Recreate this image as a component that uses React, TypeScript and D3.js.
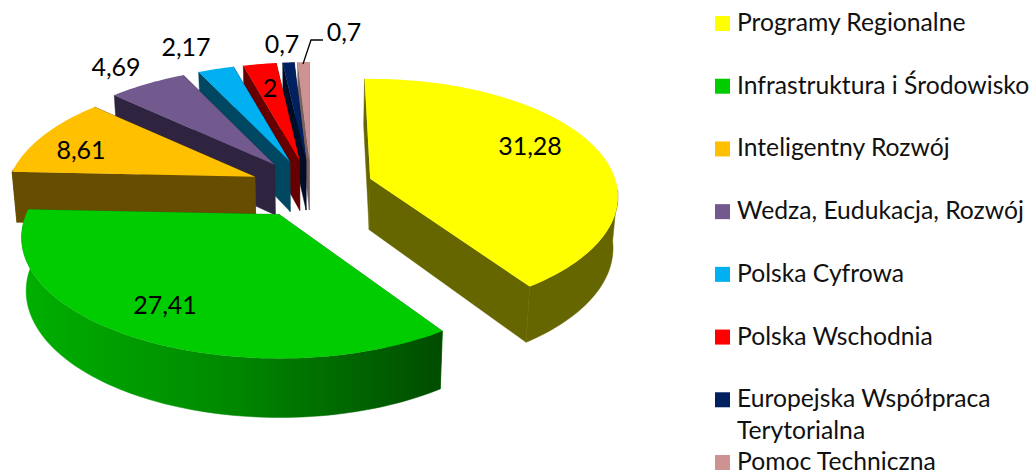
import React from "react";
import * as d3 from "d3";

const categories = [
  "Programy Regionalne",
  "Infrastruktura i Środowisko",
  "Inteligentny Rozwój",
  "Wedza, Eudukacja, Rozwój",
  "Polska Cyfrowa",
  "Polska Wschodnia",
  "Europejska Współpraca Terytorialna",
  "Pomoc Techniczna",
];
const values = [31.28, 27.41, 8.61, 4.69, 2.17, 2, 0.7, 0.7];
const topColors = ["#ffff00", "#00cc00", "#ffc000", "#725a8f", "#00b0f0", "#ff0000", "#002060", "#cd9393"];
const sideColors = ["#666600", "#008a00", "#664d00", "#2e243f", "#004761", "#660000", "#000d26", "#7a6060"];

// layout only
const WIDTH = 1030;
const HEIGHT = 472;
const explode = [0.262, 0.22, 0.26, 0.28, 0.28, 0.28, 0.28, 0.28];
const labelXY: [number, number][] = [
  [530, 155], [165, 314], [81, 159], [116, 76], [186, 56], [270, 97], [282, 53], [344, 41],
];
const cx = 311, cy = 187.5, A0 = 250, B0 = 116.6, K0 = 0.19;
const shapeA = [245, 253, 245, 245, 245, 245, 245, 245];
const shapeB = [115, 116.6, 116.6, 116.6, 116.6, 116.6, 116.6, 116.6];
const shapeK = [0.15, 0.19, 0.19, 0.19, 0.19, 0.19, 0.19, 0.19];
const startNudgeDeg = [-1.5, 2, 0, 0, 0, 0, 0, 0];

type P = [number, number];
const proj = (theta: number, i: number, ox: P): P => {
  const u = Math.sin(theta);
  const v = Math.cos(theta);
  const s = 1 / (1 + shapeK[i] * v);
  return [ox[0] + shapeA[i] * u * s, ox[1] - shapeB[i] * v * s];
};
// the base of the extrusion converges slightly and grows toward the viewer
const drop = ([x, y]: P): P => [x - (x - 310) * 0.016, y + 50 + (y - 161) * 0.046];

const line = d3.line<P>().x((d) => d[0]).y((d) => d[1]);
const closed = (pts: P[]) => (line(pts) as string) + "Z";

const pie = d3.pie<number>().sort(null).value((d) => d);
const arcs = pie(values);
const FRONT_FROM = (95 * Math.PI) / 180;
const FRONT_TO = (275 * Math.PI) / 180;

const slices = arcs.map((a, i) => {
  const mid = (a.startAngle + a.endAngle) / 2;
  const u = Math.sin(mid);
  const v = Math.cos(mid);
  const s = 1 / (1 + K0 * v);
  const apex: P = [cx + A0 * u * s * explode[i], cy - B0 * v * s * explode[i]];
  const t0 = a.startAngle + (startNudgeDeg[i] * Math.PI) / 180;
  const t1 = a.endAngle;
  const n = Math.max(4, Math.ceil((t1 - t0) * 40));
  const angles = d3.range(n + 1).map((k) => t0 + ((t1 - t0) * k) / n);
  const rim: P[] = angles.map((t) => proj(t, i, apex));
  const front: P[] = angles
    .filter((t) => t >= FRONT_FROM && t <= FRONT_TO)
    .map((t) => proj(t, i, apex));
  const first = rim[0];
  const last = rim[rim.length - 1];
  return {
    i,
    top: closed([apex, ...rim]),
    wallStart: closed([apex, first, drop(first), drop(apex)]),
    wallEnd: closed([apex, last, drop(last), drop(apex)]),
    wallOuter: front.length > 1 ? closed([...front, ...front.slice().reverse().map(drop)]) : null,
  };
});

// painted from the far side to the near side
const paintOrder = [7, 6, 5, 4, 3, 2, 1, 0];

const legendY = d3.scaleLinear().domain([0, 7]).range([16, 455]);
const formatValue = (v: number) => String(v).replace(".", ",");
const FONT = "Lato, 'Open Sans', sans-serif";
const LEGEND_SIZE = 24.7;

export default function App() {
  return (
    <svg
      width={WIDTH}
      height={HEIGHT}
      viewBox={`0 0 ${WIDTH} ${HEIGHT}`}
      style={{ position: "absolute", left: 0, top: 0, background: "#fff", display: "block" }}
      fontFamily={FONT}
    >
      <defs>
        <linearGradient id="greenWall" x1="0" x2="1" y1="0" y2="0">
          <stop offset="0" stopColor="#00b000" />
          <stop offset="0.5" stopColor="#008800" />
          <stop offset="1" stopColor="#004c00" />
        </linearGradient>
      </defs>
      {paintOrder.map((idx) => {
        const s = slices[idx];
        const side = sideColors[idx];
        const outer = idx === 1 ? "url(#greenWall)" : side;
        return (
          <g key={idx}>
            <path d={s.wallEnd} fill={side} stroke={side} strokeWidth={0.5} />
            <path d={s.wallStart} fill={side} stroke={side} strokeWidth={0.5} />
            {s.wallOuter && <path d={s.wallOuter} fill={outer} stroke={outer} strokeWidth={0.5} />}
            <path d={s.top} fill={topColors[idx]} />
          </g>
        );
      })}
      <path
        d={line([[303, 64], [311, 40], [323, 40]]) as string}
        fill="none"
        stroke="#000"
        strokeWidth={1.3}
      />
      {values.map((v, i) => (
        <text key={i} x={labelXY[i][0]} y={labelXY[i][1]} fontSize={25} textAnchor="middle" fill="#000">
          {formatValue(v)}
        </text>
      ))}
      {categories.map((c, i) => {
        const y = legendY(i);
        const wrapped = c === "Europejska Współpraca Terytorialna";
        return (
          <g key={c}>
            <rect x={715} y={y} width={15} height={15} fill={topColors[i]} />
            {wrapped ? (
              <text fontSize={LEGEND_SIZE} fill="#111">
                <tspan x={737} y={y + 15}>Europejska Współpraca</tspan>
                <tspan x={737} y={y + 47}>Terytorialna</tspan>
              </text>
            ) : (
              <text x={737} y={y + 15} fontSize={LEGEND_SIZE} fill="#111">{c}</text>
            )}
          </g>
        );
      })}
    </svg>
  );
}
